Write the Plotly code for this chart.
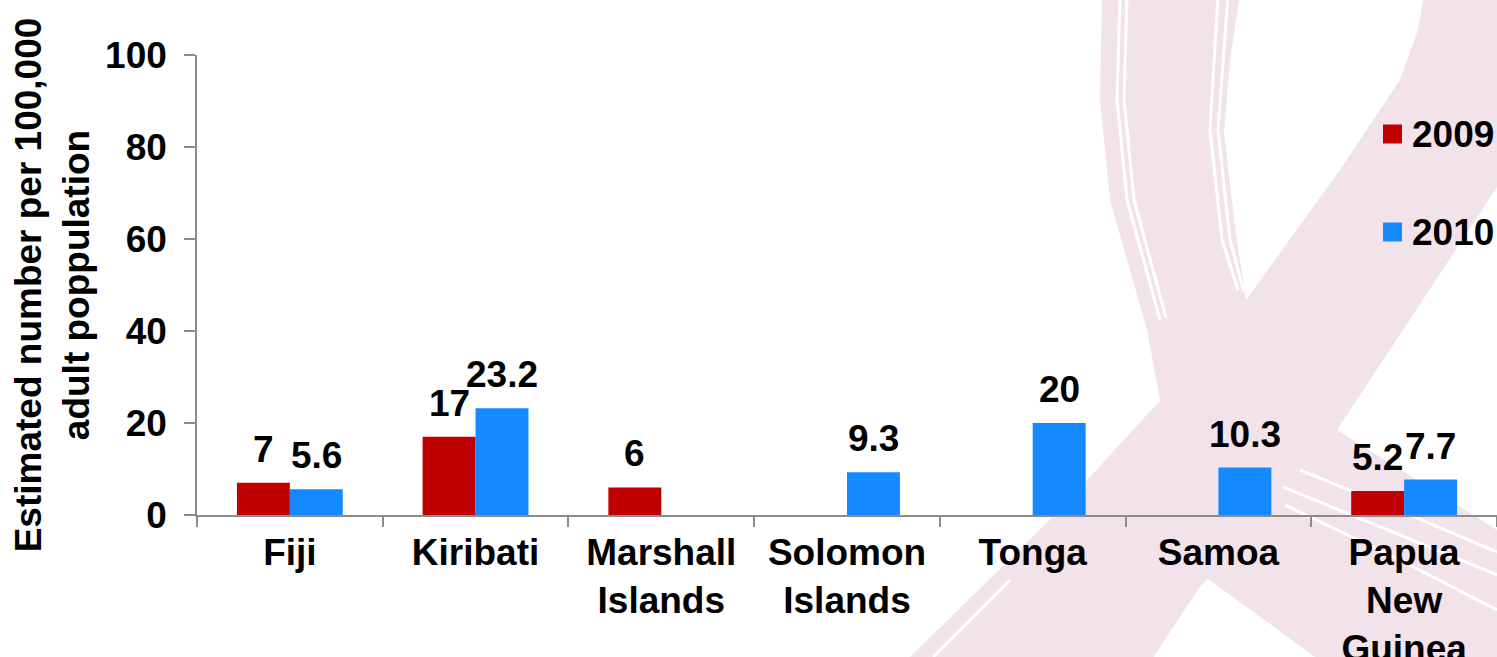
import plotly.graph_objects as go

# ---- data ----
categories = ["Fiji", "Kiribati", "Marshall<br>Islands", "Solomon<br>Islands",
              "Tonga", "Samoa", "Papua<br>New<br>Guinea"]
values_2009 = [7, 17, 6, None, None, None, 5.2]
values_2010 = [5.6, 23.2, None, 9.3, 20, 10.3, 7.7]
series_names = ["2009", "2010"]
y_ticks = [0, 20, 40, 60, 80, 100]
y_title = "Estimated number per 100,000<br>adult poppulation"

# ---- style ----
W, H = 1497, 657
ML, MR, MT, MB = 197, 0, 55, 142
RED = "#C00000"
BLUE = "#1589FF"
COLORS = [RED, BLUE]
PINK = "rgb(242,226,233)"
FONT = "Liberation Sans, Arial, sans-serif"
FS = 37


def px2paper(pts):
    # pts given in page pixels of the 1497x657 window
    pw = W - ML - MR
    ph = H - MT - MB
    return [((x - ML) / pw, (H - MB - y) / ph) for x, y in pts]


def path(pts, close=True):
    p = px2paper(pts)
    s = "M " + " L ".join(f"{x:.4f},{y:.4f}" for x, y in p)
    return s + (" Z" if close else "")


fig = go.Figure()
fig.add_trace(go.Bar(x=categories, y=values_2009, name=series_names[0],
                     marker=dict(color=RED, line=dict(width=0))))
fig.add_trace(go.Bar(x=categories, y=values_2010, name=series_names[1],
                     marker=dict(color=BLUE, line=dict(width=0))))

# data labels
bar_half = 26.5
for vals, shift in ((values_2009, -bar_half), (values_2010, bar_half)):
    for c, v in zip(categories, vals):
        if v is None:
            continue
        fig.add_annotation(x=c, y=v, text=f"{v:g}", showarrow=False,
                           xshift=shift, yshift=11, yanchor="bottom",
                           font=dict(family=FONT, size=FS, color="black", weight="bold"))

# background ribbon (decorative), page pixel coordinates
ribbon_right = [(1424, -5), (1418, 30), (1400, 80), (1340, 170), (1246, 300),
                (1176, 383), (1057, 513), (905, 662), (1150, 662), (1200, 587),
                (1337, 430), (1403, 330), (1497, 187), (1560, 80), (1580, -5)]
ribbon_loop = [(1102, -5), (1100, 100), (1110, 200), (1147, 330), (1160, 400),
               (1172, 480), (1182, 560), (1322, 662), (1600, 662), (1600, 560),
               (1497, 530), (1337, 430), (1246, 300), (1236, 233),
               (1224, 133), (1230, 60), (1240, -5)]
streaks = [
    [(1120, -5), (1117, 100), (1127, 200), (1160, 320)],
    [(1127, -5), (1124, 100), (1134, 200), (1166, 318)],
    [(1218, -5), (1210, 130), (1222, 240), (1238, 290)],
    [(1228, -5), (1218, 130), (1230, 240), (1244, 292)],
    [(1283, 487), (1400, 535), (1497, 575)],
    [(1300, 470), (1410, 515), (1497, 552)],
    [(1285, 505), (1400, 560), (1497, 610)],
    [(1010, 580), (933, 657)],
]
shapes = [
    dict(type="path", path=path(ribbon_right), xref="paper", yref="paper",
         fillcolor=PINK, line=dict(width=0), layer="below"),
    dict(type="path", path=path(ribbon_loop), xref="paper", yref="paper",
         fillcolor=PINK, line=dict(width=0), layer="below"),
]
for s in streaks:
    shapes.append(dict(type="path", path=path(s, close=False), xref="paper", yref="paper",
                       line=dict(color="white", width=3), layer="below"))

# legend (square keys + labels), page pixel positions
legend_rows_y = [134, 232]
for name, col, yc in zip(series_names, COLORS, legend_rows_y):
    (x0, y0), (x1, y1) = px2paper([(1383, yc - 9.5), (1402, yc + 9.5)])
    shapes.append(dict(type="rect", xref="paper", yref="paper",
                       x0=x0, x1=x1, y0=y1, y1=y0,
                       fillcolor=col, line=dict(width=0), layer="above"))
    (tx, ty), = px2paper([(1410, yc)])
    fig.add_annotation(x=tx, y=ty, xref="paper", yref="paper", text=name,
                       showarrow=False, xanchor="left", yanchor="middle",
                       font=dict(family=FONT, size=FS, color="black", weight="bold"))

fig.update_layout(
    width=W, height=H,
    margin=dict(l=ML, r=MR, t=MT, b=MB, autoexpand=False),
    paper_bgcolor="white", plot_bgcolor="rgba(0,0,0,0)",
    font=dict(family=FONT, size=FS, color="black", weight="bold"),
    barmode="group", bargap=0.43, bargroupgap=0,
    shapes=shapes,
    showlegend=False,
    xaxis=dict(showline=True, linecolor="#8c8c8c", linewidth=1.5,
               ticks="outside", tickson="boundaries", ticklen=10,
               tickcolor="#8c8c8c", tickwidth=1.5,
               tickfont=dict(family=FONT, size=FS, weight="bold"),
               ticklabelstandoff=4, showgrid=False, zeroline=False),
    yaxis=dict(range=[0, 100], tickvals=y_ticks, showline=True,
               linecolor="#8c8c8c", linewidth=1.5, ticks="outside", ticklen=11,
               tickcolor="#8c8c8c", tickwidth=1.5, showgrid=False, zeroline=False,
               tickfont=dict(family=FONT, size=FS, weight="bold"),
               ticklabelstandoff=10,
               title=dict(text=y_title, standoff=4,
                          font=dict(family=FONT, size=FS, weight="bold"))),
)

fig.write_html(
    "out.html",
    config={"displayModeBar": False},
    post_script="document.body.style.margin='0';document.body.style.overflow='hidden';",
)
